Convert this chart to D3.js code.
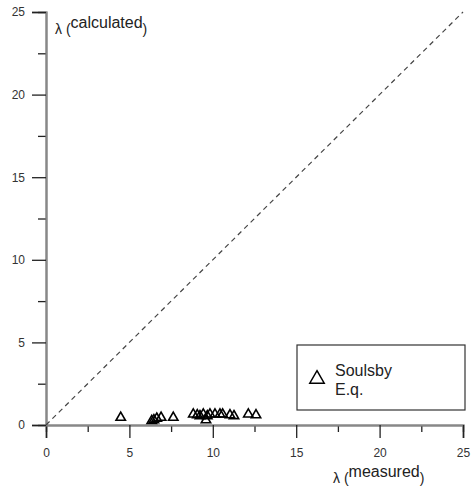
<!DOCTYPE html>
<html>
<head>
<meta charset="utf-8">
<script src="https://cdn.jsdelivr.net/npm/d3@7"></script>
<style>
  body { margin: 0; background: #fff; }
  text { font-family: "Liberation Sans", Arial, sans-serif; }
</style>
</head>
<body>
<svg id="drawing_region"></svg>
<script>
// measured vs calculated lambda (Soulsby Eq.)
const measured   = [4.48, 6.34, 6.47, 6.64, 6.9, 7.63, 8.83, 9.07, 9.23, 9.43, 9.59, 9.67, 9.83, 10.13, 10.43, 10.59, 11.03, 11.27, 12.13, 12.59];
const calculated = [0.45, 0.25, 0.3, 0.4, 0.45, 0.45, 0.65, 0.6, 0.55, 0.65, 0.3, 0.55, 0.65, 0.65, 0.65, 0.65, 0.6, 0.55, 0.65, 0.6];
const majorTicks = [0, 5, 10, 15, 20, 25];
const minorTicks = [2.5, 7.5, 12.5, 17.5, 22.5];
const legendLabel = ["Soulsby", "E.q."];

const config = {
    width: 475,
    height: 491,
    margin: {top: 12, right: 12, bottom: 66, left: 46}
};

const svg = d3.select('#drawing_region')
    .attr('width', config.width)
    .attr('height', config.height);

const inner_width = config.width - config.margin.left - config.margin.right;
const inner_height = config.height - config.margin.top - config.margin.bottom;

const chart = svg.append('g')
    .attr('transform', `translate(${config.margin.left}, ${config.margin.top})`);

const xscale = d3.scaleLinear().domain([0, 25]).range([0, inner_width]);
const yscale = d3.scaleLinear().domain([0, 25]).range([inner_height, 0]);

// minor ticks first, then major axes on top
const xminor = d3.axisBottom(xscale).tickValues(minorTicks).tickSize(7).tickFormat('');
const yminor = d3.axisLeft(yscale).tickValues(minorTicks).tickSize(8).tickFormat('');
const xaxis = d3.axisBottom(xscale).tickValues(majorTicks).tickSize(13).tickPadding(10).tickFormat(d3.format('d'));
const yaxis = d3.axisLeft(yscale).tickValues(majorTicks).tickSize(14).tickPadding(7).tickFormat(d3.format('d'));

function styleAxis(g) {
    g.select('.domain').attr('stroke', '#888').attr('stroke-width', 2);
    g.selectAll('.tick line').attr('stroke', '#222').attr('stroke-width', 1.3);
    g.selectAll('.tick text').attr('fill', '#333').attr('font-size', '12px')
        .style('font-family', '"Liberation Sans", Arial, sans-serif');
}

chart.append('g').attr('transform', `translate(0, ${inner_height})`).call(xminor).call(styleAxis);
chart.append('g').call(yminor).call(styleAxis);
chart.append('g').attr('transform', `translate(0, ${inner_height})`).call(xaxis).call(styleAxis);
chart.append('g').call(yaxis).call(styleAxis);

// 1:1 line
chart.append('line')
    .attr('x1', xscale(0)).attr('y1', yscale(0))
    .attr('x2', xscale(25)).attr('y2', yscale(25))
    .attr('stroke', '#444')
    .attr('stroke-width', 1.2)
    .attr('stroke-dasharray', '5,4');

// data points
const tri = d3.symbol().type(d3.symbolTriangle).size(38);
chart.selectAll('.pt')
    .data(measured)
    .enter()
    .append('path')
    .attr('class', 'pt')
    .attr('d', tri)
    .attr('transform', (d, i) => `translate(${xscale(d)}, ${yscale(calculated[i])})`)
    .attr('fill', 'none')
    .attr('stroke', '#000')
    .attr('stroke-width', 1.6);

// axis titles
function axisTitle(x, y, word) {
    const t = svg.append('text')
        .attr('x', x).attr('y', y)
        .attr('fill', '#222')
        .attr('font-size', '14px');
    t.append('tspan').text('λ (');
    t.append('tspan').attr('dy', -6).attr('font-size', '16px').text(word);
    t.append('tspan').attr('dy', 6).text(')');
}
axisTitle(55, 34, 'calculated');
axisTitle(333, 483, 'measured');

// legend
const legend = svg.append('g');
legend.append('rect')
    .attr('x', 297).attr('y', 345)
    .attr('width', 168).attr('height', 65)
    .attr('fill', '#fff')
    .attr('stroke', '#333')
    .attr('stroke-width', 1.2);
legend.append('path')
    .attr('d', d3.symbol().type(d3.symbolTriangle).size(90))
    .attr('transform', 'translate(317, 379)')
    .attr('fill', 'none')
    .attr('stroke', '#000')
    .attr('stroke-width', 1.5);
legend.selectAll('.lt')
    .data(legendLabel)
    .enter()
    .append('text')
    .attr('class', 'lt')
    .attr('x', 335)
    .attr('y', (d, i) => 376 + i * 19)
    .attr('fill', '#222')
    .attr('font-size', '16px')
    .text(d => d);
</script>
</body>
</html>
